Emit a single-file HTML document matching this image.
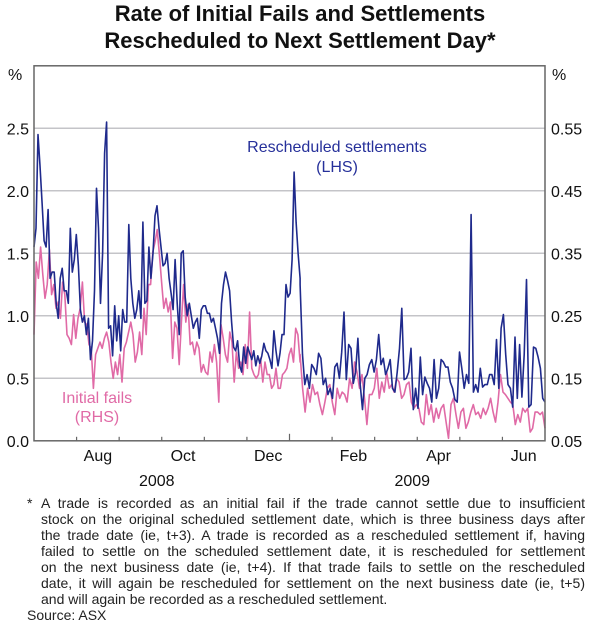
<!DOCTYPE html>
<html><head><meta charset="utf-8"><style>
html,body{margin:0;padding:0;background:#fff;}
body{width:600px;height:635px;position:relative;font-family:"Liberation Sans",Arial,sans-serif;overflow:hidden;}
svg{position:absolute;left:0;top:0;}
.fn{position:absolute;left:41px;width:544px;top:495px;font-size:14px;line-height:16px;color:#222;}
.fn div{text-align:justify;text-align-last:justify;white-space:nowrap;}
.fn div.last{text-align-last:left;}
</style></head><body>
<svg id="chart" width="600" height="635">
 <text x="300" y="21" text-anchor="middle" font-size="22" font-weight="bold" fill="#111">Rate of Initial Fails and Settlements</text>
 <text x="300" y="48" text-anchor="middle" font-size="22" font-weight="bold" fill="#111">Rescheduled to Next Settlement Day*</text>
 <g id="grid"></g>
 <g id="series"></g>
 <rect x="34" y="65.8" width="511" height="375" fill="none" stroke="#666" stroke-width="1.5"/>
 <g id="axes"></g>
 <text x="8" y="80" font-size="16" fill="#111">%</text>
 <text x="552" y="80" font-size="16" fill="#111">%</text>
 <text x="337" y="152" text-anchor="middle" font-size="16" fill="#26309a">Rescheduled settlements</text>
 <text x="337" y="172" text-anchor="middle" font-size="16" fill="#26309a">(LHS)</text>
 <text x="97" y="403" text-anchor="middle" font-size="16" fill="#e06aa6">Initial fails</text>
 <text x="97" y="422" text-anchor="middle" font-size="16" fill="#e06aa6">(RHS)</text>
</svg>
<div class="fn"><span style="position:absolute;left:-14px;top:0">*</span>
<div>A trade is recorded as an initial fail if the trade cannot settle due to insufficient</div>
<div>stock on the original scheduled settlement date, which is three business days after</div>
<div>the trade date (ie, t+3). A trade is recorded as a rescheduled settlement if, having</div>
<div>failed to settle on the scheduled settlement date, it is rescheduled for settlement</div>
<div>on the next business date (ie, t+4). If that trade fails to settle on the rescheduled</div>
<div>date, it will again be rescheduled for settlement on the next business date (ie, t+5)</div>
<div class="last">and will again be recorded as a rescheduled settlement.</div>
</div>
<div style="position:absolute;left:27px;top:607px;font-size:14px;color:#222">Source: ASX</div>
<script>
const leftTicks = [0.0, 0.5, 1.0, 1.5, 2.0, 2.5];
const rightTicks = [0.05, 0.15, 0.25, 0.35, 0.45, 0.55];
const monthLabels = ["Aug","Oct","Dec","Feb","Apr","Jun"];
const monthLabelMonths = [1.5,3.5,5.5,7.5,9.5,11.5];
const monthTicks = [1,2,3,4,5,6,7,8,9,10,11];
const yearLabels = ["2008","2009"];
const yearLabelMonths = [3,9];
// each series is in two segments: Jul–early Jan, and early Jan–Jun (month ranges below)
const seg1Months = [0, 6.25];
const seg2Months = [6.25, 12];
const rescheduledH1 = [1.55,1.7,2.45,2.2,1.9,1.6,1.55,1.85,1.3,1.35,1.35,1.1,0.98,1.3,1.38,1.2,1.2,1.1,1.7,1.35,1.45,1.65,1.4,1.05,0.95,1.0,0.85,0.98,0.65,0.8,1.2,2.02,1.7,1.1,1.5,2.3,2.55,0.9,0.92,0.68,1.08,0.8,1.0,0.72,1.05,0.95,0.95,1.73,1.3,1.1,0.98,1.05,1.2,0.98,1.75,1.1,1.12,1.55,1.3,1.5,1.8,1.88,1.7,1.55,1.4,1.42,1.5,1.3,1.18,1.05,1.45,1.1,0.85,1.5,1.52,1.15,1.0,1.1,1.0,0.9,0.95,0.98,0.82,1.05,1.08,1.08,1.02,1.02,0.95,0.98,0.9,0.82,0.7,1.1,1.25,1.35,1.28,1.2,0.95,0.75,0.72,0.8,0.6,0.55,0.75,0.62,0.75,0.7,0.65,0.72,0.6,0.68,0.62,0.68,0.78,0.72,0.7,0.65,0.58,0.88,0.72,0.6,0.7,0.85,0.85,1.25,1.15,1.18,1.45,2.15,1.75,1.5,1.3];
const rescheduledH2 = [1.25,0.69,0.45,0.53,0.42,0.61,0.58,0.53,0.7,0.66,0.45,0.5,0.37,0.42,0.34,0.59,0.62,0.5,0.71,1.03,0.49,0.77,0.74,0.46,0.55,0.82,0.45,0.25,0.5,0.53,0.61,0.65,0.55,0.65,0.85,0.61,0.66,0.53,0.58,0.65,0.42,0.39,0.55,0.74,1.06,0.49,0.5,0.55,0.74,0.25,0.42,0.26,0.67,0.37,0.51,0.46,0.42,0.31,0.65,0.34,0.42,0.65,0.63,0.59,0.59,0.47,0.42,0.33,0.31,0.71,0.58,0.42,0.53,0.46,1.81,0.39,0.45,0.39,0.58,0.43,0.45,0.45,0.53,0.53,0.45,0.81,0.42,0.9,1.01,0.69,0.45,0.42,0.27,0.83,0.34,0.77,0.35,0.69,1.29,0.27,0.29,0.75,0.74,0.67,0.58,0.34,0.31];
// initial fails in RHS % units
const initialFailsH1 = [0.22,0.336,0.31,0.36,0.316,0.278,0.3,0.356,0.284,0.3,0.262,0.272,0.246,0.304,0.284,0.22,0.214,0.204,0.252,0.214,0.246,0.262,0.304,0.24,0.236,0.204,0.198,0.134,0.188,0.198,0.208,0.198,0.214,0.224,0.208,0.176,0.15,0.176,0.156,0.188,0.144,0.198,0.208,0.224,0.24,0.22,0.176,0.192,0.224,0.188,0.262,0.22,0.3,0.3,0.352,0.368,0.388,0.348,0.304,0.262,0.278,0.256,0.272,0.182,0.24,0.23,0.172,0.24,0.3,0.24,0.268,0.204,0.208,0.188,0.208,0.198,0.16,0.172,0.16,0.156,0.192,0.176,0.204,0.176,0.112,0.236,0.214,0.188,0.176,0.224,0.208,0.144,0.192,0.166,0.176,0.156,0.204,0.166,0.256,0.166,0.156,0.15,0.156,0.182,0.144,0.176,0.156,0.156,0.134,0.14,0.166,0.134,0.134,0.156,0.16,0.166,0.188,0.198,0.176,0.23,0.22,0.176];
const initialFailsH2 = [0.188,0.134,0.096,0.134,0.112,0.14,0.124,0.128,0.108,0.092,0.112,0.134,0.14,0.112,0.092,0.134,0.118,0.128,0.124,0.112,0.15,0.134,0.176,0.16,0.134,0.156,0.118,0.076,0.124,0.124,0.134,0.166,0.118,0.144,0.128,0.16,0.134,0.14,0.128,0.15,0.144,0.118,0.124,0.14,0.144,0.112,0.102,0.108,0.102,0.08,0.076,0.124,0.092,0.108,0.08,0.102,0.086,0.102,0.108,0.08,0.054,0.108,0.118,0.092,0.07,0.096,0.102,0.07,0.08,0.096,0.108,0.092,0.096,0.086,0.102,0.092,0.102,0.118,0.096,0.08,0.112,0.156,0.128,0.124,0.118,0.112,0.108,0.076,0.092,0.08,0.102,0.096,0.102,0.064,0.07,0.096,0.096,0.092,0.096,0.07];

const X0=34, X1=545, Y0=440.8, Y1=65.8;
const yL = v => Y0 - (v/3)*(Y0-Y1);
const yR = v => Y0 - ((v-0.05)/0.6)*(Y0-Y1);
const xM = m => X0 + (m/12)*(X1-X0);
const xSeg = (i,n,r) => xM(r[0] + (i/(n-1))*(r[1]-r[0]));
const NS="http://www.w3.org/2000/svg";
function mk(tag, attrs, parent){const e=document.createElementNS(NS,tag);for(const k in attrs)e.setAttribute(k,attrs[k]);parent.appendChild(e);return e;}
const grid=document.getElementById('grid'), axes=document.getElementById('axes'), series=document.getElementById('series');
leftTicks.forEach((t,i)=>{
  if(t>0){const l=mk('line',{x1:X0,x2:X1,y1:yL(t),y2:yL(t),stroke:'#c4c4c8','stroke-width':1.5},grid);
  
  }
  const tx=mk('text',{x:29,y:yL(t)+6,'text-anchor':'end','font-size':16,fill:'#111'},axes);
  tx.textContent=t.toFixed(1);
  
  
});
rightTicks.forEach(t=>{
  const tx=mk('text',{x:551,y:yR(t)+6,'font-size':16,fill:'#111'},axes);
  tx.textContent=t.toFixed(2);
  
  
});
monthTicks.forEach(m=>{
  const l=mk('line',{x1:xM(m),x2:xM(m),y1:Y0,y2:Y0-(m===6?7:4),stroke:'#666','stroke-width':1.2},axes);
  
  
});
monthLabels.forEach((s,i)=>{
  const tx=mk('text',{x:xM(monthLabelMonths[i]),y:461,'text-anchor':'middle','font-size':16,fill:'#111'},axes);
  tx.textContent=s;
  
  
});
yearLabels.forEach((s,i)=>{
  const tx=mk('text',{x:xM(yearLabelMonths[i])-5,y:486,'text-anchor':'middle','font-size':16,fill:'#111'},axes);
  tx.textContent=s;
  
  
});
function pathOf(a1,a2,yf){
  const pts=[];
  a1.forEach((v,i)=>pts.push([xSeg(i,a1.length,seg1Months),yf(v)]));
  a2.forEach((v,i)=>pts.push([xSeg(i,a2.length,seg2Months),yf(v)]));
  return pts.map((p,i)=>(i?'L':'M')+p[0].toFixed(1)+','+p[1].toFixed(1)).join('');
}
const pk=mk('path',{d:pathOf(initialFailsH1,initialFailsH2,yR),fill:'none',stroke:'#e06aa6','stroke-width':1.6,'stroke-linejoin':'round'},series);


const bl=mk('path',{d:pathOf(rescheduledH1,rescheduledH2,yL),fill:'none',stroke:'#1f2a8c','stroke-width':1.6,'stroke-linejoin':'round'},series);


</script>
</body></html>
